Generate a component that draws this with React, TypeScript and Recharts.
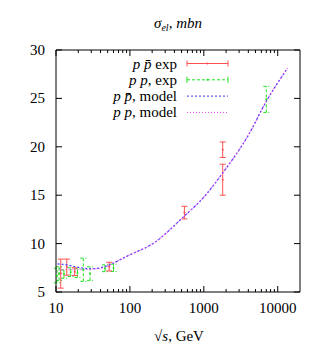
import React from "react";
import { ComposedChart, Line, Scatter, ErrorBar, XAxis, YAxis } from "recharts";

// sqrt(s) in GeV, sigma_el in mb
const ppbarExpS = [11.6, 14.0, 17.9, 52.4, 546, 1800, 1800];
const ppbarExpVal = [6.9, 7.57, 7.1, 7.62, 13.2, 19.7, 16.6];
const ppbarExpErr = [1.5, 0.83, 0.4, 0.45, 0.65, 0.8, 1.6];

const ppExpS = [10.3, 11.0, 12.8, 15.8, 19.5, 23.4, 28.9, 46, 60, 7000];
const ppExpVal = [6.7, 6.9, 6.85, 7.05, 6.95, 7.3, 6.9, 7.45, 7.5, 24.9];
const ppExpErr = [0.75, 0.7, 0.43, 0.45, 0.45, 1.2, 0.7, 0.35, 0.38, 1.35];

const modelS = [10.5, 14, 20, 30, 45, 60, 100, 200, 546, 1000, 1800, 4000, 7000, 13500];
const ppbarModel = [7.9, 7.8, 7.55, 7.4, 7.6, 8.0, 8.85, 9.95, 12.85, 14.8, 17.3, 21.2, 24.7, 28.1];
const ppModel = [7.25, 7.3, 7.3, 7.35, 7.55, 8.0, 8.85, 9.95, 12.85, 14.8, 17.3, 21.2, 24.7, 28.1];

const xMajor = [10, 100, 1000, 10000];
const xTicks = [10, 20, 30, 40, 50, 60, 70, 80, 90, 100, 200, 300, 400, 500, 600, 700, 800, 900,
  1000, 2000, 3000, 4000, 5000, 6000, 7000, 8000, 9000, 10000];
const yTicks = [5, 10, 15, 20, 25, 30];

const FONT = '"Liberation Serif", "Times New Roman", serif';
const RED = "#ff5050";
const GREEN = "#22e022";
const BLUE = "#3a3aff";
const MAGENTA = "#f03cf0";

const toPoints = (xs: number[], ys: number[], errs?: number[]) =>
  xs.map((x, i) => ({ x, y: ys[i], err: errs ? errs[i] : 0 }));

const ppbarExp = toPoints(ppbarExpS, ppbarExpVal, ppbarExpErr);
const ppExp = toPoints(ppExpS, ppExpVal, ppExpErr);
const ppbarLine = toPoints(modelS, ppbarModel);
const ppLine = toPoints(modelS, ppModel);

const txt = { fontFamily: FONT, fontSize: 15 };

function makeTick(side: "bottom" | "top" | "left" | "right") {
  return (props: any) => {
    const { x, y, payload } = props;
    const v = payload.value;
    if (side === "bottom" || side === "top") {
      const len = xMajor.includes(v) ? 6 : 3;
      const dir = side === "bottom" ? -1 : 1;
      return (
        <g>
          <line x1={x} x2={x} y1={y} y2={y + dir * len} stroke="#000" />
          {side === "bottom" && xMajor.includes(v) && (
            <text x={x} y={y + 21} textAnchor="middle" style={txt} fill="#000">
              {v}
            </text>
          )}
        </g>
      );
    }
    const dir = side === "left" ? 1 : -1;
    return (
      <g>
        <line x1={x} x2={x + dir * 6} y1={y} y2={y} stroke="#000" />
        {side === "left" && (
          <text x={x - 11} y={y + 5} textAnchor="end" style={txt} fill="#000">
            {v}
          </text>
        )}
      </g>
    );
  };
}

const dot = (color: string) => (props: any) =>
  <circle cx={props.cx} cy={props.cy} r={1} fill={color} />;

function LegendRow({ y, label, color, dash, caps }: { y: number; label: React.ReactNode; color: string; dash?: string; caps?: boolean }) {
  return (
    <g>
      <text x={177} y={y + 5} textAnchor="end" style={txt} fill="#000">
        {label}
      </text>
      <line x1={187} x2={228} y1={y} y2={y} stroke={color} strokeDasharray={dash} />
      {caps && (
        <>
          <line x1={187} x2={187} y1={y - 3} y2={y + 3} stroke={color} />
          <line x1={228} x2={228} y1={y - 3} y2={y + 3} stroke={color} />
          <circle cx={207.5} cy={y} r={1} fill={color} />
        </>
      )}
    </g>
  );
}

const P = () => <tspan fontStyle="italic">p</tspan>;
const Pbar = () => <tspan fontStyle="italic">p̄</tspan>;

export default function App() {
  return (
    <div style={{ position: "absolute", left: 0, top: 0, width: 332, height: 348, background: "#fff" }}>
      <ComposedChart width={332} height={348} margin={{ top: 49, right: 31, bottom: 26, left: 6 }}>
        <XAxis
          dataKey="x"
          type="number"
          scale="log"
          domain={[10, 20000]}
          allowDataOverflow
          ticks={xTicks}
          interval={0}
          tickSize={0}
          tickMargin={0}
          height={30}
          stroke="#000"
          tick={makeTick("bottom")}
        />
        <XAxis
          xAxisId="top"
          orientation="top"
          dataKey="x"
          type="number"
          scale="log"
          domain={[10, 20000]}
          allowDataOverflow
          ticks={xTicks}
          interval={0}
          tickSize={0}
          tickMargin={0}
          height={1}
          stroke="#000"
          tick={makeTick("top")}
        />
        <YAxis
          dataKey="y"
          type="number"
          domain={[5, 30]}
          allowDataOverflow
          ticks={yTicks}
          interval={0}
          tickSize={0}
          tickMargin={0}
          width={50}
          stroke="#000"
          tick={makeTick("left")}
        />
        <YAxis
          yAxisId="right"
          orientation="right"
          type="number"
          domain={[5, 30]}
          allowDataOverflow
          ticks={yTicks}
          interval={0}
          tickSize={0}
          tickMargin={0}
          width={1}
          stroke="#000"
          tick={makeTick("right")}
        />
        <Scatter data={ppExp} dataKey="y" shape={dot(GREEN)} isAnimationActive={false}>
          <ErrorBar dataKey="err" direction="y" width={3} strokeWidth={1} stroke={GREEN} strokeDasharray="3 2" isAnimationActive={false} />
        </Scatter>
        <Scatter data={ppbarExp} dataKey="y" shape={dot(RED)} isAnimationActive={false}>
          <ErrorBar dataKey="err" direction="y" width={3} strokeWidth={1} stroke={RED} isAnimationActive={false} />
        </Scatter>
        <Line data={ppbarLine} dataKey="y" type="monotone" stroke={BLUE} strokeWidth={1.2} strokeDasharray="2 2" dot={false} isAnimationActive={false} />
        <Line data={ppLine} dataKey="y" type="monotone" stroke={MAGENTA} strokeWidth={1.2} strokeDasharray="1 2" strokeDashoffset={1} dot={false} isAnimationActive={false} />
      </ComposedChart>
      <svg width={332} height={348} style={{ position: "absolute", left: 0, top: 0, pointerEvents: "none" }}>
        <text x={178} y={28} textAnchor="middle" style={txt} fontStyle="italic" fill="#000">
          σ<tspan fontSize={10} dy={3}>el</tspan><tspan dy={-3}>, mbn</tspan>
        </text>
        <LegendRow y={63.5} label={<><P /> <Pbar /> exp</>} color={RED} caps />
        <LegendRow y={79.8} label={<><P /> <P />, exp</>} color={GREEN} dash="3 2" caps />
        <LegendRow y={96.1} label={<><P /> <Pbar />, model</>} color={BLUE} dash="2 2" />
        <LegendRow y={112.4} label={<><P /> <P />, model</>} color={MAGENTA} dash="1 2" />
        <text x={179} y={341} textAnchor="middle" style={txt} fill="#000">
          √<tspan fontStyle="italic">s</tspan>, GeV
        </text>
      </svg>
    </div>
  );
}
